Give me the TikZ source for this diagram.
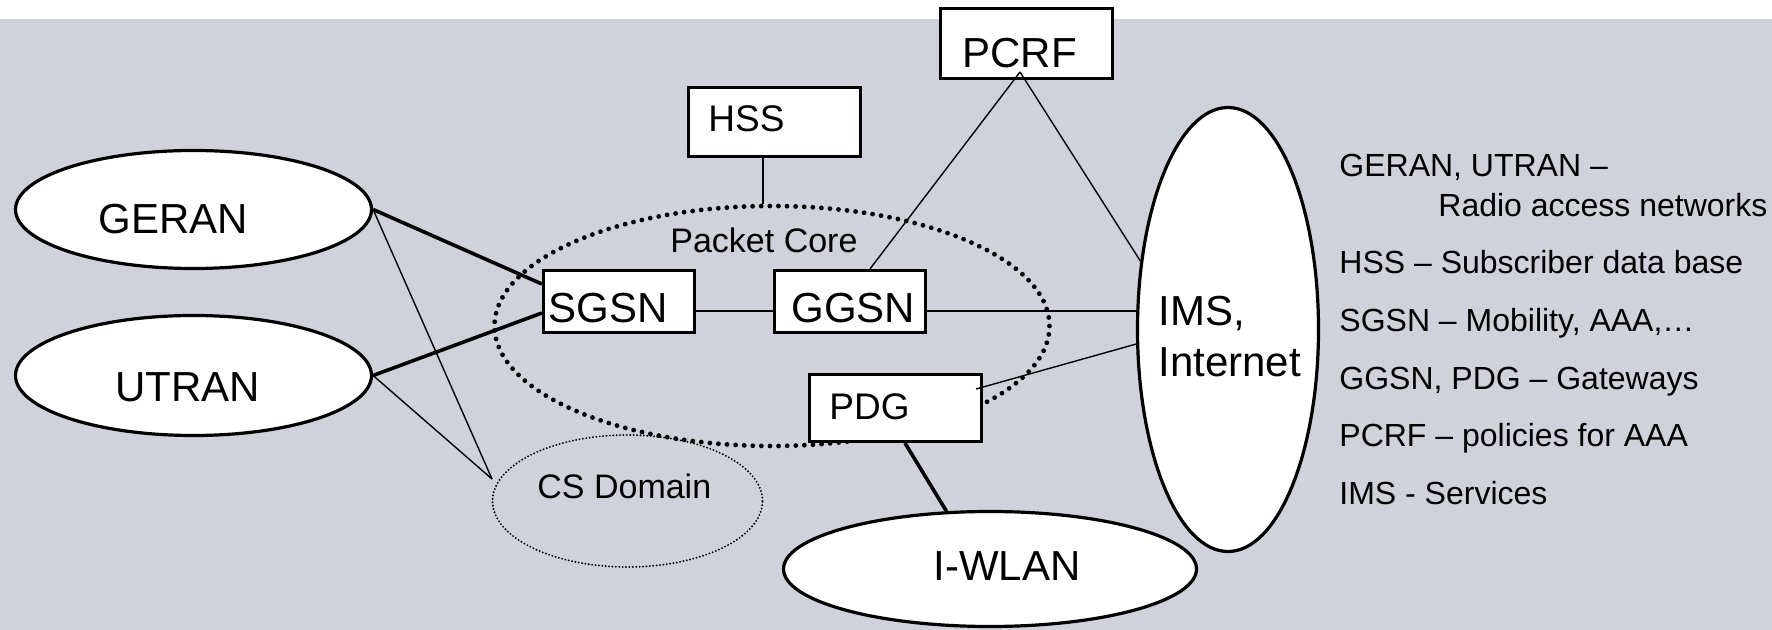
\documentclass[tikz,border=0pt]{standalone}
\usepackage{fontspec}
\setmainfont{Liberation Sans}
\usetikzlibrary{shapes.geometric}
\definecolor{slide}{RGB}{207,210,217}
\tikzset{
  box/.style={draw, line width=1.6pt, fill=white, rectangle, inner sep=0pt},
  oval/.style={draw, line width=1.6pt, fill=white, ellipse, inner sep=0pt},
  coreline/.style={draw, ellipse, inner sep=0pt, line width=2.4pt, line cap=round, dash pattern=on 0pt off 4.3pt},
  csline/.style={draw, ellipse, inner sep=0pt, line width=1.05pt, line cap=round, dash pattern=on 0pt off 1.7pt},
  big/.style={anchor=base west, inner sep=0pt, font=\fontsize{21}{25}\selectfont},
  mid/.style={anchor=base west, inner sep=0pt, font=\fontsize{18.5}{22}\selectfont},
  small/.style={anchor=base west, inner sep=0pt, font=\fontsize{17}{20}\selectfont},
  note/.style={anchor=base west, inner sep=0pt, font=\fontsize{16}{19}\selectfont},
  thin/.style={line width=0.7pt},
  heavy/.style={line width=1.8pt},
}
\begin{document}
\begin{tikzpicture}[x=0.5pt,y=-0.5pt]
\useasboundingbox (0,0) rectangle (1772,630);
\fill[slide] (0,19) rectangle (1772,630);

% dotted domains
\node[coreline, minimum width=277.5pt, minimum height=120pt] (core) at (772,326) {};
\node[csline, minimum width=135pt, minimum height=66pt] (cs) at (627.5,501) {};
\node[small] (core-t) at (670,253) {Packet Core};
\node[small] (cs-t) at (537,498) {CS Domain};

% boxes
\node[box, minimum width=86pt, minimum height=35pt] (pcrf) at (1026.5,43.5) {};
\node[big] (pcrf-t) at (962,68) {PCRF};
\node[box, minimum width=86pt, minimum height=34.5pt] (hss) at (774.5,122) {};
\node[mid] (hss-t) at (708,132) {HSS};
\node[box, minimum width=75.5pt, minimum height=31pt] (sgsn) at (619,301.5) {};
\node[big] (sgsn-t) at (548,323) {SGSN};
\node[box, minimum width=75.5pt, minimum height=31pt] (ggsn) at (850,301.5) {};
\node[big] (ggsn-t) at (791,323) {GGSN};
\node[box, minimum width=86pt, minimum height=33.5pt] (pdg) at (895.5,408) {};
\node[mid] (pdg-t) at (829,420) {PDG};

% access networks and external networks
\node[oval, minimum width=178pt, minimum height=59pt] (geran) at (193.5,209.5) {};
\node[big] (geran-t) at (98,234) {GERAN};
\node[oval, minimum width=178pt, minimum height=60pt] (utran) at (193.5,375.5) {};
\node[big] (utran-t) at (115,402) {UTRAN};
\node[oval, minimum width=90.5pt, minimum height=222pt] (ims) at (1228,329.5) {};
\node[big] (ims-t1) at (1158,326) {IMS,};
\node[big] (ims-t2) at (1158,377) {Internet};
\node[oval, minimum width=206.5pt, minimum height=57.5pt] (iwlan) at (990,569) {};
\node[big] (iwlan-t) at (933,580) {I-WLAN};

% join points
\coordinate (csjoin) at (492,479);
\coordinate (pcrfjoin) at (1020,72);

% connections
\draw[heavy] (geran.east) -- ([yshift=8.75pt]sgsn.west);
\draw[heavy] (utran.east) -- ([yshift=-5.75pt]sgsn.west);
\draw[thin] (geran.east) -- (csjoin);
\draw[thin] (utran.east) -- (csjoin);
\draw[thin] ([yshift=-4.75pt]sgsn.east) -- ([yshift=-4.75pt]ggsn.west);
\draw[thin] ([yshift=-4.75pt]ggsn.east) -- ([yshift=-4.75pt]ggsn.east -| ims.west);
\draw[thin] ([xshift=-5.75pt]hss.south) -- ([xshift=-5.75pt]hss.south |- core.north);
\draw[thin] (pcrfjoin) -- ([xshift=10pt]ggsn.north);
\draw[thin] (pcrfjoin) -- (ims.142);
\draw[thin] ([xshift=-3.5pt,yshift=9.5pt]pdg.east) -- (ims.189);
\draw[heavy] ([xshift=4.75pt]pdg.south) -- (iwlan.127);

% legend
\node[note] (n1) at (1339,177) {GERAN, UTRAN –};
\node[note] (n2) at (1438,217) {Radio access networks};
\node[note] (n3) at (1339,274) {HSS – Subscriber data base};
\node[note] (n4) at (1339,332) {SGSN – Mobility, AAA,…};
\node[note] (n5) at (1339,390) {GGSN, PDG – Gateways};
\node[note] (n6) at (1339,447) {PCRF – policies for AAA};
\node[note] (n7) at (1339,504) {IMS - Services};
\end{tikzpicture}
\end{document}
